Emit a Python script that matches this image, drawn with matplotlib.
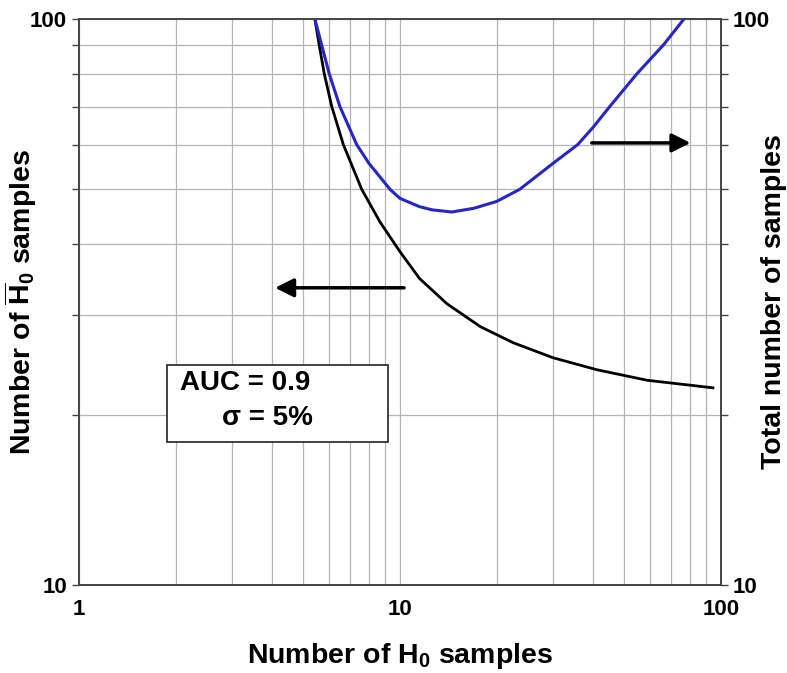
import numpy as np
import matplotlib
matplotlib.use('Agg')
import matplotlib.pyplot as plt
from matplotlib.ticker import FixedLocator, NullFormatter, FixedFormatter
from matplotlib.patches import Rectangle

plt.rcParams['font.family'] = ['Liberation Sans', 'DejaVu Sans']
plt.rcParams['mathtext.fontset'] = 'custom'
plt.rcParams['mathtext.rm'] = 'Liberation Sans'
plt.rcParams['mathtext.bf'] = 'Liberation Sans:bold'
plt.rcParams['mathtext.it'] = 'Liberation Sans:italic'

# Data
# number of H0 samples vs number of H0-bar samples (left axis)
h0_black = [5.43, 5.60, 5.81, 6.13, 6.66, 7.60, 8.66, 10.0, 11.5, 14.0,
            17.8, 22.5, 30.0, 41.1, 58.8, 94.4]
h0bar = [100.0, 90.0, 80.0, 70.0, 60.0, 50.0, 43.8, 38.8, 34.8, 31.4,
         28.6, 26.8, 25.2, 24.0, 23.0, 22.3]

# number of H0 samples vs total number of samples (right axis)
h0_blue = [5.43, 5.70, 6.02, 6.50, 7.33, 8.0, 9.31, 10.0, 11.5, 12.6, 14.5,
           17.0, 20.0, 23.6, 30.0, 35.8, 40.0, 45.0, 54.7, 66.2, 76.7]
total = [100.0, 90.0, 80.0, 70.0, 60.0, 55.6, 50.0, 48.2, 46.6, 46.0, 45.6,
         46.3, 47.6, 50.0, 55.6, 60.0, 64.4, 70.0, 80.0, 90.0, 100.0]

x_ticks = [1, 10, 100]
y_ticks = [10, 100]
minor_x = [2, 3, 4, 5, 6, 7, 8, 9, 20, 30, 40, 50, 60, 70, 80, 90]
minor_y = [20, 30, 40, 50, 60, 70, 80, 90]

fig = plt.figure(figsize=(7.87, 6.73), dpi=100)
ax = fig.add_axes([0.1004, 0.1308, 0.8157, 0.841])
ax.set_xscale('log')
ax.set_yscale('log')
ax.set_xlim(1, 100)
ax.set_ylim(10, 100)

ax.xaxis.set_major_locator(FixedLocator(x_ticks))
ax.xaxis.set_major_formatter(FixedFormatter([str(t) for t in x_ticks]))
ax.xaxis.set_minor_locator(FixedLocator(minor_x))
ax.xaxis.set_minor_formatter(NullFormatter())
ax.yaxis.set_major_locator(FixedLocator(y_ticks))
ax.yaxis.set_major_formatter(FixedFormatter([str(t) for t in y_ticks]))
ax.yaxis.set_minor_locator(FixedLocator(minor_y))
ax.yaxis.set_minor_formatter(NullFormatter())

ax.grid(True, which='both', color='#b4b4b4', lw=0.9)
ax.set_axisbelow(True)
ax.tick_params(which='both', direction='out', length=5, width=1, color='#444444')
ax.tick_params(axis='x', which='both', length=0, pad=10)
ax.tick_params(labelsize=16)
for lab in ax.get_xticklabels() + ax.get_yticklabels():
    lab.set_fontweight('bold')
for sp in ax.spines.values():
    sp.set_color('#444444')
    sp.set_linewidth(1.2)

ax.plot(h0_black, h0bar, color='black', lw=2)

ax2 = ax.twinx()
ax2.set_yscale('log')
ax2.set_ylim(10, 100)
ax2.yaxis.set_major_locator(FixedLocator(y_ticks))
ax2.yaxis.set_major_formatter(FixedFormatter([str(t) for t in y_ticks]))
ax2.yaxis.set_minor_locator(FixedLocator(minor_y))
ax2.yaxis.set_minor_formatter(NullFormatter())
ax2.tick_params(which='both', direction='out', length=5, width=1, color='#444444', labelsize=16)
for lab in ax2.get_yticklabels():
    lab.set_fontweight('bold')
for sp in ax2.spines.values():
    sp.set_color('#444444')
    sp.set_linewidth(1.2)
ax2.plot(h0_blue, total, color='#2626c8', lw=2.2)

# arrows pointing to each axis
ax.annotate('', xy=(4.0, 33.5), xytext=(10.5, 33.5),
            arrowprops=dict(arrowstyle='-|>', lw=2.5, color='black', mutation_scale=28))
ax2.annotate('', xy=(82, 60.4), xytext=(38.8, 60.4),
             arrowprops=dict(arrowstyle='-|>', lw=2.5, color='black', mutation_scale=28))

# legend-like text box
ax2.add_patch(Rectangle((0.137, 0.253), 0.344, 0.136, transform=ax.transAxes,
                        facecolor='white', edgecolor='#222222', lw=1.2, zorder=5))
ax2.text(0.157, 0.357, 'AUC = 0.9', transform=ax.transAxes, fontsize=20,
         fontweight='bold', va='center', ha='left', zorder=6)
ax2.text(0.223, 0.295, '\u03c3 = 5%', transform=ax.transAxes, fontsize=20,
         fontweight='bold', va='center', ha='left', zorder=6)

ax.set_xlabel(r'Number of H$_\mathbf{0}$ samples', fontsize=20.5, fontweight='bold', labelpad=15)
ax.set_ylabel(r'Number of $\mathbf{\overline{H}}_\mathbf{0}$ samples', fontsize=20.5,
              fontweight='bold')
ax.yaxis.set_label_coords(-0.062, 0.5)
ax2.set_ylabel('Total number of samples', fontsize=20.5, fontweight='bold')
ax2.yaxis.set_label_coords(1.062, 0.5)

fig.savefig('out.png', dpi=100)
